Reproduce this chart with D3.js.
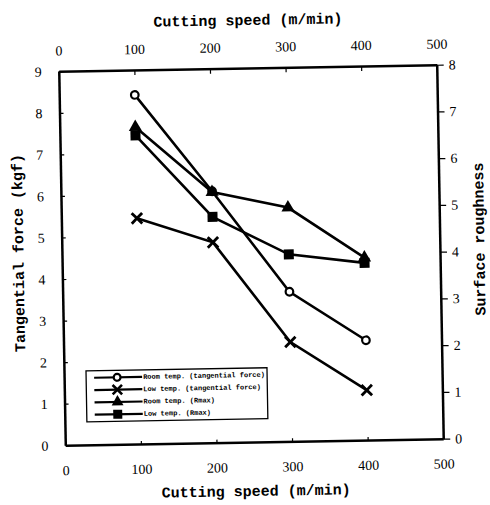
<!DOCTYPE html>
<html><head><meta charset="utf-8">
<script src="https://cdn.jsdelivr.net/npm/d3@7"></script>
<style>
html,body{margin:0;padding:0;background:#fff;}
svg{display:block;}
</style></head>
<body>
<svg id="chart" width="490" height="505"></svg>
<script>
// ---- data ----
const speeds = [100, 200, 300, 400];
const roomForce = [8.4, 6.05, 3.6, 2.4];
const lowForce = [5.43, 4.82, 2.39, 1.2];
const roomRmax = [6.78, 5.36, 5.0, 3.9];
const lowRmax = [6.6, 4.83, 4.0, 3.79];
const xTicks = [0, 100, 200, 300, 400, 500];
const leftTicks = [0, 1, 2, 3, 4, 5, 6, 7, 8, 9];
const rightTicks = [0, 1, 2, 3, 4, 5, 6, 7, 8];
const legendLabels = ["Room temp. (tangential force)", "Low temp. (tangential force)", "Room temp. (Rmax)", "Low temp. (Rmax)"];
const xTitle = "Cutting speed (m/min)";
const yLeftTitle = "Tangential force (kgf)";
const yRightTitle = "Surface roughness";

const L = 62, R = 440, T = 68, B = 442;
const svg = d3.select("#chart");
const g = svg.append("g").attr("transform", "rotate(-1,251,255)");

const x = d3.scaleLinear().domain([0, 500]).range([L, R]);
const yL = d3.scaleLinear().domain([0, 9]).range([B, T]);
const yR = d3.scaleLinear().domain([0, 8]).range([B, T]);

const tickFont = "'Liberation Serif', serif";
const titleFont = "'Liberation Mono', monospace";

function styleAxis(sel) {
  sel.select(".domain").attr("stroke", "#000").attr("stroke-width", 2.5);
  sel.selectAll(".tick line").attr("stroke", "#000").attr("stroke-width", 1.2);
  sel.selectAll(".tick text").attr("font-family", tickFont).attr("font-size", 14).attr("fill", "#000");
}

g.append("g").attr("transform", `translate(0,${T})`)
  .call(d3.axisTop(x).tickValues(xTicks).tickFormat(d3.format("d")).tickSizeInner(-5).tickSizeOuter(0).tickPadding(16))
  .call(styleAxis);
g.append("g").attr("transform", `translate(0,${B})`)
  .call(d3.axisBottom(x).tickValues(xTicks).tickFormat(d3.format("d")).tickSizeInner(-3).tickSizeOuter(0).tickPadding(20))
  .call(styleAxis);
g.append("g").attr("transform", `translate(${L},0)`)
  .call(d3.axisLeft(yL).tickValues(leftTicks).tickFormat(d3.format("d")).tickSizeInner(-4).tickSizeOuter(0).tickPadding(17))
  .call(styleAxis);
g.append("g").attr("transform", `translate(${R},0)`)
  .call(d3.axisRight(yR).tickValues(rightTicks).tickFormat(d3.format("d")).tickSizeInner(7).tickSizeOuter(0).tickPadding(5))
  .call(styleAxis);

// titles
g.append("text").attr("x", 252).attr("y", 25).attr("text-anchor", "middle")
  .attr("font-family", titleFont).attr("font-weight", "bold").attr("font-size", 15).text(xTitle);
g.append("text").attr("x", 252).attr("y", 496).attr("text-anchor", "middle")
  .attr("font-family", titleFont).attr("font-weight", "bold").attr("font-size", 15).text(xTitle);
g.append("text").attr("transform", "translate(20,249) rotate(-90)").attr("text-anchor", "middle")
  .attr("dominant-baseline", "central")
  .attr("font-family", titleFont).attr("font-weight", "bold").attr("font-size", 15).text(yLeftTitle);
g.append("text").attr("transform", "translate(481,243) rotate(-90)").attr("text-anchor", "middle")
  .attr("dominant-baseline", "central")
  .attr("font-family", titleFont).attr("font-weight", "bold").attr("font-size", 15).text(yRightTitle);

// markers
const xPath = s => {
  const h = s / 2, w = s * 0.16;
  return `M${-h},${-h + w}L${-h + w},${-h}L0,${-w}L${h - w},${-h}L${h},${-h + w}L${w},0L${h},${h - w}L${h - w},${h}L0,${w}L${-h + w},${h}L${-h},${h - w}L${-w},0Z`;
};
const markers = [
  {type: "circle", draw: (sel, k) => sel.append("circle").attr("r", 3.8 * k).attr("fill", "#fff").attr("stroke", "#000").attr("stroke-width", 2.2)},
  {type: "x", draw: (sel, k) => sel.append("path").attr("d", xPath(12.5 * k)).attr("fill", "#000")},
  {type: "tri", draw: (sel, k) => sel.append("path").attr("d", d3.symbol(d3.symbolTriangle, 75 * k * k)()).attr("fill", "#000")},
  {type: "sq", draw: (sel, k) => sel.append("path").attr("d", d3.symbol(d3.symbolSquare, 100 * k * k)()).attr("fill", "#000")}
];

const series = [
  {vals: roomForce, y: yL, m: 0},
  {vals: lowForce, y: yL, m: 1},
  {vals: roomRmax, y: yR, m: 2},
  {vals: lowRmax, y: yR, m: 3}
];

series.forEach(s => {
  const pts = speeds.map((sp, i) => [x(sp), s.y(s.vals[i])]);
  g.append("path").attr("d", d3.line()(pts)).attr("fill", "none").attr("stroke", "#000").attr("stroke-width", 2.6);
});
series.forEach(s => {
  speeds.forEach((sp, i) => {
    const mg = g.append("g").attr("transform", `translate(${x(sp)},${s.y(s.vals[i])})`);
    markers[s.m].draw(mg, 1);
  });
});

// legend
const lg = g.append("g");
lg.append("rect").attr("x", 84).attr("y", 368).attr("width", 181).attr("height", 51)
  .attr("fill", "#fff").attr("stroke", "#000").attr("stroke-width", 1.3);
legendLabels.forEach((lab, i) => {
  const yy = 375 + i * 12.3;
  lg.append("line").attr("x1", 92).attr("x2", 140).attr("y1", yy).attr("y2", yy).attr("stroke", "#000").attr("stroke-width", 2.2);
  const mg = lg.append("g").attr("transform", `translate(115,${yy})`);
  markers[i].draw(mg, 0.9);
  lg.append("text").attr("x", 141).attr("y", yy).attr("dominant-baseline", "central")
    .attr("font-family", titleFont).attr("font-weight", "bold").attr("font-size", 7).text(lab);
});
</script>
</body></html>
